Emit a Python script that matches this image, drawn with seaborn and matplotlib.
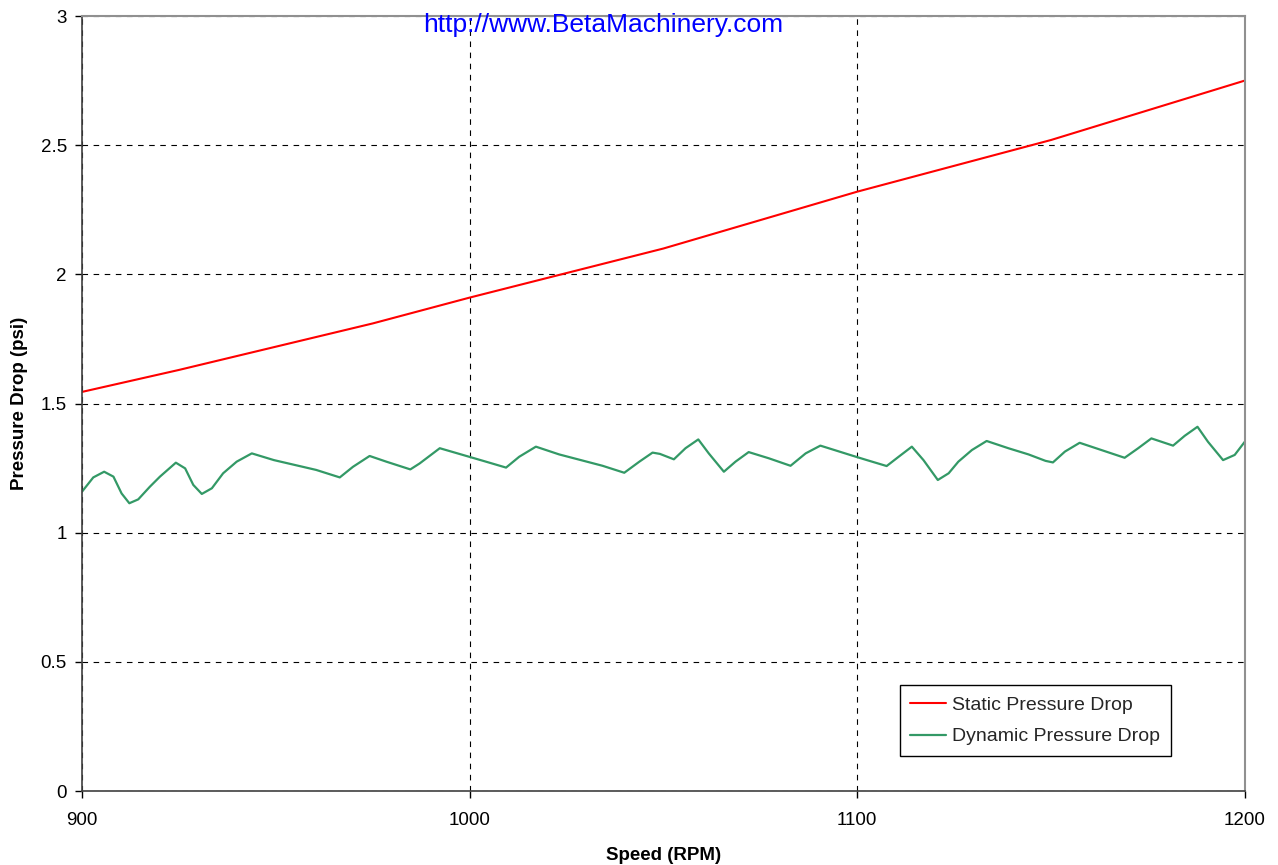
import matplotlib
matplotlib.use("Agg")
import matplotlib.pyplot as plt
import seaborn as sns
import pandas as pd

static_rpm = [900, 925, 950, 975, 1000, 1025, 1050, 1075, 1100, 1125, 1150, 1175, 1200]
static_psi = [1.545, 1.63, 1.72, 1.81, 1.91, 2.005, 2.10, 2.21, 2.32, 2.42, 2.52, 2.635, 2.75]

dyn_rpm = [900, 902.9, 905.7, 908.1, 910.2, 912.2, 914.5, 917.5, 920.1, 924.2, 926.6, 928.7,
           930.9, 933.5, 936.4, 939.9, 943.8, 949.5, 960.4, 966.5, 969.9, 974.2, 978.5, 984.7,
           987.1, 992.3, 999.4, 1004.2, 1009.4, 1012.8, 1017.1, 1023.1, 1034.3, 1039.9, 1043.8,
           1047.2, 1049.1, 1052.7, 1055.7, 1059.0, 1061.7, 1065.6, 1068.6, 1072.0, 1077.2,
           1082.8, 1086.7, 1090.5, 1098.8, 1102.5, 1107.6, 1110.7, 1114.1, 1117.1, 1120.8,
           1123.6, 1126.1, 1129.6, 1133.4, 1139.0, 1144.2, 1148.6, 1150.5, 1153.6, 1157.4,
           1163.0, 1169.0, 1172.5, 1175.9, 1181.5, 1184.5, 1187.8, 1190.5, 1194.4, 1197.4, 1200]
dyn_psi = [1.159, 1.214, 1.236, 1.217, 1.152, 1.114, 1.129, 1.178, 1.217, 1.271, 1.249, 1.185,
           1.150, 1.172, 1.230, 1.275, 1.307, 1.281, 1.243, 1.214, 1.255, 1.297, 1.275, 1.245,
           1.268, 1.327, 1.296, 1.275, 1.252, 1.294, 1.333, 1.303, 1.259, 1.232, 1.275,
           1.310, 1.305, 1.284, 1.327, 1.361, 1.307, 1.236, 1.275, 1.312, 1.288,
           1.259, 1.307, 1.337, 1.298, 1.281, 1.258, 1.294, 1.333, 1.281, 1.204,
           1.230, 1.275, 1.320, 1.355, 1.327, 1.303, 1.278, 1.272, 1.314, 1.348,
           1.320, 1.290, 1.327, 1.365, 1.337, 1.375, 1.410, 1.352, 1.281, 1.301, 1.352]

x_ticks = [900, 1000, 1100, 1200]
y_ticks = [0, 0.5, 1, 1.5, 2, 2.5, 3]
y_tick_labels = ["0", "0.5", "1", "1.5", "2", "2.5", "3"]

sns.set_theme(style="white")
plt.rcParams["font.family"] = ["Liberation Sans", "DejaVu Sans"]

fig = plt.figure(figsize=(12.78, 8.65), dpi=100)
ax = fig.add_axes([0.0642, 0.0855, 0.9098, 0.896])

df_s = pd.DataFrame({"rpm": static_rpm, "psi": static_psi})
df_d = pd.DataFrame({"rpm": dyn_rpm, "psi": dyn_psi})
sns.lineplot(data=df_s, x="rpm", y="psi", ax=ax, color="#FF0000", linewidth=1.5,
             label="Static Pressure Drop", sort=False)
sns.lineplot(data=df_d, x="rpm", y="psi", ax=ax, color="#339966", linewidth=1.6,
             label="Dynamic Pressure Drop", sort=False)
for ln in ax.get_lines():
    ln.set_solid_joinstyle("round")

ax.set_xlim(900, 1200)
ax.set_ylim(0, 3)
ax.set_xticks(x_ticks)
ax.set_yticks(y_ticks)
ax.set_yticklabels(y_tick_labels)
ax.tick_params(axis="both", direction="out", length=5, width=1, color="black",
               labelsize=13.5, labelcolor="black", bottom=True, left=True)
ax.tick_params(axis="x", pad=10)
ax.tick_params(axis="y", pad=6)
ax.grid(True, which="major", color="black", linestyle=(0, (5, 5)), linewidth=0.8)

for side in ["left", "bottom"]:
    ax.spines[side].set_color("#404040")
    ax.spines[side].set_linewidth(1.2)
for side in ["top", "right"]:
    ax.spines[side].set_color("#909090")
    ax.spines[side].set_linewidth(1.5)

ax.set_xlabel("Speed (RPM)", fontsize=13.5, fontweight="bold", color="black", labelpad=13)
ax.set_ylabel("Pressure Drop (psi)", fontsize=13.5, fontweight="bold", color="black", labelpad=9)

ax.text(0.4484, 0.9794, "http://www.BetaMachinery.com", transform=ax.transAxes,
        ha="center", va="baseline", color="#0000FF", fontsize=19)

leg = ax.legend(loc="lower right", bbox_to_anchor=(0.9364, 0.0452), borderaxespad=0,
                fontsize=14, frameon=True, fancybox=False, edgecolor="black", framealpha=1,
                handlelength=1.85, handletextpad=0.3, borderpad=0.55, labelspacing=0.72)
leg.get_frame().set_linewidth(1.0)

fig.savefig("out.png", dpi=100)
